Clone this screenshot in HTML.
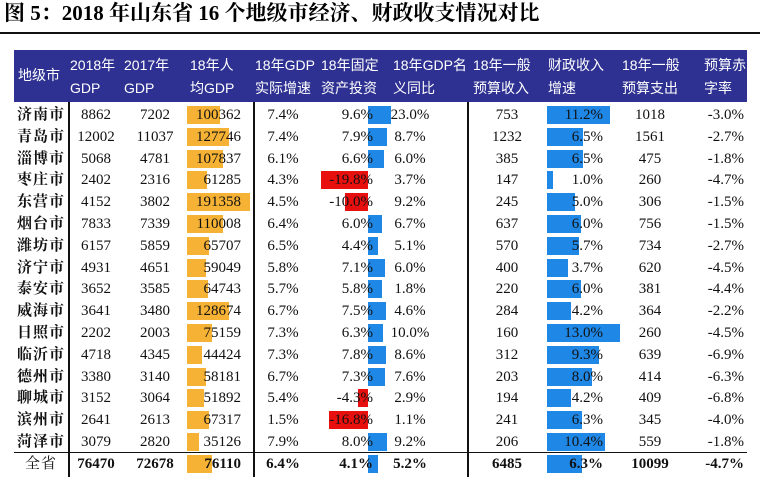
<!DOCTYPE html>
<html><head><meta charset="utf-8"><style>
body{margin:0;background:#fff;width:760px;height:492px;overflow:hidden;position:relative;font-family:"Liberation Serif","Noto Serif CJK SC",serif}
.a{position:absolute;white-space:nowrap}
.t{font-size:15px;line-height:22px;color:#111}
.h{color:#fff;font-family:"Liberation Sans","Noto Sans CJK SC",sans-serif;font-size:14px;line-height:23px}
</style></head><body>
<div class="a" style="left:4px;top:-1px;font-size:21px;font-weight:bold;line-height:28px">图 5：2018 年山东省 16 个地级市经济、财政收支情况对比</div>
<div class="a" style="left:0;top:32px;width:760px;height:2px;background:#111"></div>
<div class="a" style="left:14px;top:50px;width:733px;height:52px;background:#2e3192"></div>
<div id="tb"></div>
<script>
var cities=["济南市","青岛市","淄博市","枣庄市","东营市","烟台市","潍坊市","济宁市","泰安市","威海市","日照市","临沂市","德州市","聊城市","滨州市","菏泽市","全省"];
var gdp18=[8862,12002,5068,2402,4152,7833,6157,4931,3652,3641,2202,4718,3380,3152,2641,3079,76470];
var gdp17=[7202,11037,4781,2316,3802,7339,5859,4651,3585,3480,2003,4345,3140,3064,2613,2820,72678];
var perCapita=[100362,127746,107837,61285,191358,110008,65707,59049,64743,128674,75159,44424,58181,51892,67317,35126,76110];
var realGrowth=[7.4,7.4,6.1,4.3,4.5,6.4,6.5,5.8,5.7,6.7,7.3,7.3,6.7,5.4,1.5,7.9,6.4];
var fixedInvest=[9.6,7.9,6.6,-19.8,-10.0,6.0,4.4,7.1,5.8,7.5,6.3,7.8,7.3,-4.3,-16.8,8.0,4.1];
var nominal=[23.0,8.7,6.0,3.7,9.2,6.7,5.1,6.0,1.8,4.6,10.0,8.6,7.6,2.9,1.1,9.2,5.2];
var revenue=[753,1232,385,147,245,637,570,400,220,284,160,312,203,194,241,206,6485];
var revGrowth=[11.2,6.5,6.5,1.0,5.0,6.0,5.7,3.7,6.0,4.2,13.0,9.3,8.0,4.2,6.3,10.4,6.3];
var expend=[1018,1561,475,260,306,756,734,620,381,364,260,639,414,409,345,559,10099];
var deficit=[-3.0,-2.7,-1.8,-4.7,-1.5,-1.5,-2.7,-4.5,-4.4,-2.2,-4.5,-6.9,-6.3,-6.8,-4.0,-1.8,-4.7];
var headers=[["地级市",""],["2018年","GDP"],["2017年","GDP"],["18年人","均GDP"],["18年GDP","实际增速"],["18年固定","资产投资"],["18年GDP名","义同比"],["18年一般","预算收入"],["财政收入","增速"],["18年一般","预算支出"],["预算赤","字率"]];
var hx=[18,70,124,190,255,321,393,473,548,622,704];
var tb=document.getElementById('tb');
function mk(name,css,txt,cls){var d=document.createElement('div');d.className='a '+(cls||'');d.style.cssText=css;if(txt!=null)d.textContent=txt;


tb.appendChild(d);return d;}
headers.forEach(function(h,i){
  if(i==0){mk('header-city','left:'+hx[i]+'px;top:64px',h[0],'h');}
  else{mk('header-col-'+i,'left:'+hx[i]+'px;top:54px',h[0],'h');mk('header-col-'+i+'-line2','left:'+hx[i]+'px;top:77px',h[1],'h');}
});
var top0=104,rh=21.8,bh=18;
function rowTop(i){return top0+i*rh;}
var pcX=187,pcS=63/191358,fiX=368,fiS=2.35,rgX=547,rgS=5.6;
function pct(v){return v.toFixed(1)+'%';}
for(var i=0;i<cities.length;i++){
  var y=rowTop(i),bold=i==16?'font-weight:bold;':'';
  var by=y+(rh-bh)/2;
  mk('bar-per-capita','left:'+pcX+'px;top:'+by+'px;width:'+(perCapita[i]*pcS)+'px;height:'+bh+'px;background:#f6b234');
  var fv=fixedInvest[i],fw=Math.abs(fv)*fiS;
  mk('bar-fixed-invest','left:'+(fv<0?fiX-fw:fiX)+'px;top:'+by+'px;width:'+fw+'px;height:'+bh+'px;background:'+(fv<0?'#e8100f':'#1f87e5'));
  mk('bar-revenue-growth','left:'+rgX+'px;top:'+by+'px;width:'+(revGrowth[i]*rgS)+'px;height:'+bh+'px;background:#1f87e5');
  mk('city-name','left:14px;width:54px;text-align:center;top:'+y+'px;font-size:15px;letter-spacing:1px;'+(i==16?'':'font-weight:bold;'),cities[i],'t');
  var cells=[['gdp-2018',gdp18[i],96,'c'],['gdp-2017',gdp17[i],155,'c'],['per-capita-gdp',perCapita[i],241,'r'],['real-growth',pct(realGrowth[i]),283,'c'],['fixed-invest',pct(fixedInvest[i]),373,'r'],['nominal-growth',pct(nominal[i]),410,'c'],['budget-revenue',revenue[i],507,'c'],['revenue-growth',pct(revGrowth[i]),603,'r'],['budget-expenditure',expend[i],650,'c'],['deficit-rate',pct(deficit[i]),744,'r']];
  cells.forEach(function(c){
    var css=c[3]=='c'?'left:'+(c[2]-40)+'px;width:80px;text-align:center;':'left:'+(c[2]-80)+'px;width:80px;text-align:right;';
    mk(c[0]+'-cell',css+'top:'+y+'px;'+bold,String(c[1]),'t');
  });
}
[68,253,467].forEach(function(x){mk('column-divider','left:'+x+'px;top:102px;width:1.5px;height:375px;background:#111');});
mk('total-row-rule','left:14px;top:'+(rowTop(16)-1)+'px;width:733px;height:1.5px;background:#111');
</script>
</body></html>
